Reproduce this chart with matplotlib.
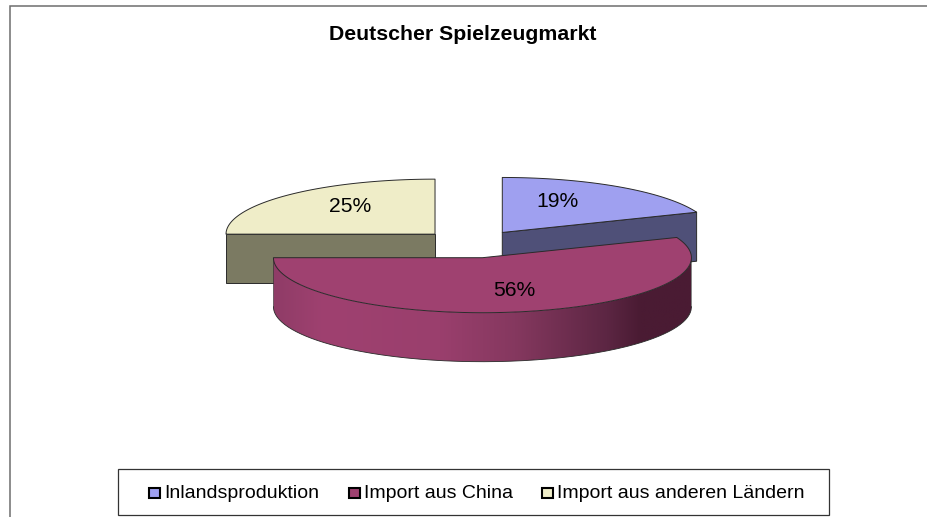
#!/usr/bin/env python3
"""
Exploded 3D style pie of the German toy market.
matplotlib has no real 3D pie so the ellipses and walls are worked out from the shares.
"""

import numpy as np
import matplotlib
matplotlib.use('Agg')
import matplotlib.pyplot as plt
from matplotlib.colors import LinearSegmentedColormap
from matplotlib.patches import PathPatch, Rectangle
from matplotlib.path import Path

title = 'Deutscher Spielzeugmarkt'
categories = ['Inlandsproduktion', 'Import aus China', 'Import aus anderen Ländern']
shares = [19, 56, 25]
share_labels = ['19%', '56%', '25%']

top_colors = ['#9fa0f0', '#9f4170', '#efedc8']
wall_colors = ['#4f5078', '#9f4170', '#7b7a62']
wall_gradient = ['#8f3c67', '#9f4170', '#9a3f6d', '#85385f', '#5c2643', '#4a1b33', '#4a1b33']
wall_gradient_stops = [0.0, 0.12, 0.4, 0.58, 0.8, 0.88, 1.0]
label_xy = [(558, 201.5), (514, 290), (350, 206)]
legend_swatch_x = [149, 349, 542]
legend_text_x = [164, 364, 557]

# pie geometry in pixels
CX, CY = 472.5, 244
RX, RY = 209, 55
DEPTH = 49
EXPLODE = 0.2536
EDGE = '#2a2a2a'


def rim(cx, cy, t):
    """Point on the ellipse, t in degrees clockwise from 12 o'clock."""
    t = np.radians(t)
    return cx + RX * np.sin(t), cy - RY * np.cos(t)


def main():
    fig = plt.figure(figsize=(9.27, 5.17), dpi=100)
    ax = fig.add_axes([0, 0, 1, 1])
    ax.set_xlim(0, 927)
    ax.set_ylim(517, 0)
    ax.axis('off')
    plt.rcParams['font.family'] = ['Liberation Sans', 'DejaVu Sans']

    # outer frame is cut off at the right and bottom of the picture
    ax.plot([10.5, 10.5, 927], [517, 6, 6], color='#6e6e6e', lw=1.1, solid_joinstyle='miter')
    ax.text(463, 35, title, ha='center', va='center', fontsize=15.3, fontweight='bold')

    # slice angles
    edges = np.cumsum([0] + shares) * 3.6
    centers = []
    for a, b in zip(edges[:-1], edges[1:]):
        mid = np.radians((a + b) / 2)
        centers.append((CX + EXPLODE * RX * np.sin(mid), CY - EXPLODE * RY * np.cos(mid)))

    # back slices first, the big one goes on top
    for z, i in enumerate([2, 0, 1]):
        a, b = edges[i], edges[i + 1]
        cx, cy = centers[i]
        t = np.linspace(a, b, 200)
        x, y = rim(cx, cy, t)

        if i != 1:
            # cut face that looks towards the viewer
            wx, wy = rim(cx, cy, a if i == 2 else b)
            ax.fill([cx, wx, wx, cx], [cy, wy, wy + DEPTH, cy + DEPTH],
                    facecolor=wall_colors[i], edgecolor=EDGE, lw=0.7, zorder=2 + z)
        else:
            # outer wall with the dark fade towards the right
            tw = np.linspace(90, b, 200)
            ux, uy = rim(cx, cy, tw)
            verts = np.vstack([np.column_stack([ux, uy]),
                               np.column_stack([ux[::-1], uy[::-1] + DEPTH])])
            wall = PathPatch(Path(verts), facecolor='none', edgecolor='none',
                             transform=ax.transData)
            ax.add_patch(wall)
            cmap = LinearSegmentedColormap.from_list(
                'wall', list(zip(wall_gradient_stops, wall_gradient)))
            grad = np.linspace(0, 1, 256).reshape(1, -1)
            im = ax.imshow(grad, cmap=cmap, aspect='auto', zorder=2 + z,
                           extent=[ux.min(), ux.max(), uy.max() + DEPTH, uy.min()])
            im.set_clip_path(wall)
            ax.plot(ux, uy + DEPTH, color=EDGE, lw=0.6, zorder=2.5 + z)
            ax.plot([ux[0], ux[0]], [uy[0], uy[0] + DEPTH], color=EDGE, lw=0.4, zorder=2.5 + z)
            ax.plot([ux[-1], ux[-1]], [uy[-1], uy[-1] + DEPTH], color=EDGE, lw=0.4, zorder=2.5 + z)

        ax.fill(np.r_[cx, x], np.r_[cy, y], facecolor=top_colors[i], edgecolor=EDGE,
                lw=0.7, zorder=2.6 + z, joinstyle='round')

    ax.set_xlim(0, 927)
    ax.set_ylim(517, 0)

    for (lx, ly), lab in zip(label_xy, share_labels):
        ax.text(lx, ly, lab, ha='center', va='center', fontsize=15.2, zorder=10)

    # legend
    ax.add_patch(Rectangle((118.5, 468.5), 711, 46, facecolor='white', edgecolor='#333333', lw=0.9))
    for i, name in enumerate(categories):
        ax.add_patch(Rectangle((legend_swatch_x[i] + 0.5, 487.5), 10.5, 10.5, facecolor=top_colors[i],
                               edgecolor='black', lw=1.5))
        ax.text(legend_text_x[i], 494, name, ha='left', va='center', fontsize=14)

    fig.savefig('out.png', dpi=100)


if __name__ == '__main__':
    main()
